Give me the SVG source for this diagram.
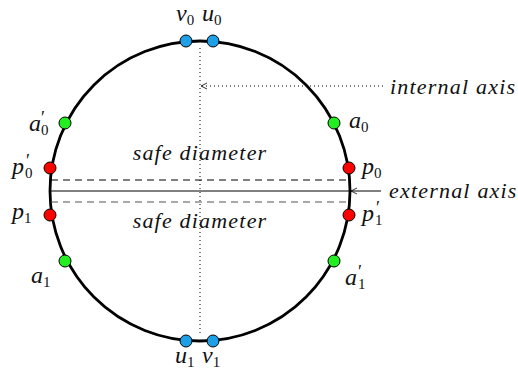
<svg xmlns="http://www.w3.org/2000/svg" width="518" height="373" viewBox="0 0 518 373">
<style>
text{font-family:'Liberation Serif','DejaVu Serif',serif;font-style:italic;font-size:24px;fill:#111}
.s{font-size:15px;font-style:normal}
.pr{font-size:18px;font-style:normal}
.blue{fill:#1ea0e6;stroke:#000;stroke-width:1}
.red{fill:#ff0000;stroke:#000;stroke-width:1}
.green{fill:#22ee22;stroke:#000;stroke-width:1}
.lbl{font-size:22px;letter-spacing:1.2px}
</style>
<defs>
<marker id="arr" markerWidth="8" markerHeight="8" refX="7" refY="4" orient="auto" markerUnits="userSpaceOnUse">
<path d="M1,1 L7,4 L1,7" fill="none" stroke="#000" stroke-width="0.8"/>
</marker>
</defs>
<g id="circle"><circle cx="200" cy="191" r="150" fill="none" stroke="#000" stroke-width="2.8"/></g>
<g id="connectors">
<line x1="200" y1="48" x2="200" y2="336" stroke="#000" stroke-width="1" stroke-dasharray="1,3"/>
<line x1="383" y1="86" x2="201" y2="86" stroke="#000" stroke-width="1" stroke-dasharray="1,3" marker-end="url(#arr)"/>
<line x1="50" y1="191" x2="381" y2="191" stroke="#000" stroke-width="1"/>
<line x1="381" y1="191" x2="351" y2="191" stroke="none" marker-end="url(#arr)"/>
<line x1="51" y1="180" x2="349" y2="180" stroke="#000" stroke-width="1.2" stroke-dasharray="7,5"/>
<line x1="51" y1="202" x2="349" y2="202" stroke="#555" stroke-width="1.2" stroke-dasharray="7,5"/>
</g>
<g id="v0"><circle class="blue" cx="186" cy="41" r="6"/><text x="176" y="21">v<tspan class="s" dy="4">0</tspan></text></g>
<g id="u0"><circle class="blue" cx="213" cy="41" r="6"/><text x="202" y="21">u<tspan class="s" dy="4">0</tspan></text></g>
<g id="u1"><circle class="blue" cx="186" cy="341" r="6"/><text x="175" y="363">u<tspan class="s" dy="4">1</tspan></text></g>
<g id="v1"><circle class="blue" cx="213" cy="341" r="6"/><text x="202" y="363">v<tspan class="s" dy="4">1</tspan></text></g>
<g id="a0p"><circle class="green" cx="65" cy="123" r="6"/><text x="29" y="131">a<tspan class="pr" x="41" dy="-7">′</tspan><tspan class="s" x="41" dy="11">0</tspan></text></g>
<g id="a0"><circle class="green" cx="334" cy="123" r="6"/><text x="349" y="128">a<tspan class="s" dy="4">0</tspan></text></g>
<g id="p0p"><circle class="red" cx="50" cy="168" r="6"/><text x="12" y="174">p<tspan class="pr" x="26" dy="-7">′</tspan><tspan class="s" x="25" dy="11">0</tspan></text></g>
<g id="p0"><circle class="red" cx="349" cy="168" r="6"/><text x="362" y="174">p<tspan class="s" dy="4">0</tspan></text></g>
<g id="p1"><circle class="red" cx="50" cy="215" r="6"/><text x="12" y="219">p<tspan class="s" dy="4">1</tspan></text></g>
<g id="p1p"><circle class="red" cx="349" cy="215" r="6"/><text x="362" y="221">p<tspan class="pr" x="376" dy="-7">′</tspan><tspan class="s" x="375" dy="11">1</tspan></text></g>
<g id="a1"><circle class="green" cx="65" cy="261" r="6"/><text x="31" y="283">a<tspan class="s" dy="4">1</tspan></text></g>
<g id="a1p"><circle class="green" cx="334" cy="261" r="6"/><text x="345" y="285">a<tspan class="pr" x="358" dy="-7">′</tspan><tspan class="s" x="358" dy="11">1</tspan></text></g>
<text class="lbl" x="200" y="160" text-anchor="middle">safe diameter</text>
<text class="lbl" x="200" y="228" text-anchor="middle">safe diameter</text>
<text class="lbl" x="390" y="94">internal axis</text>
<text class="lbl" x="389" y="198">external axis</text>
</svg>
